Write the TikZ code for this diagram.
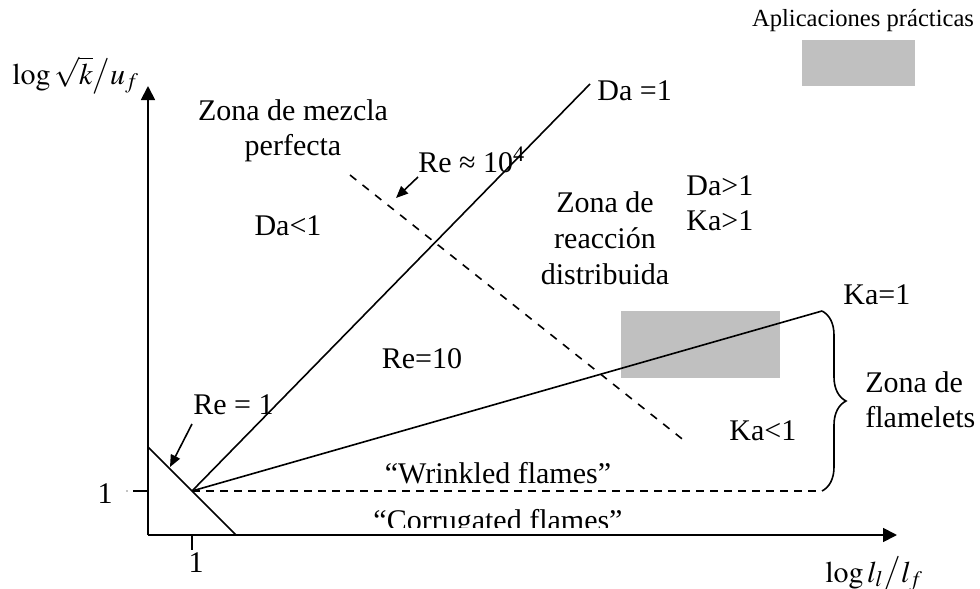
\documentclass[tikz,border=0pt]{standalone}
\usepackage{mathptmx}
\usepackage{fontspec}
\setmainfont{Liberation Serif}
\usetikzlibrary{arrows.meta,decorations.pathreplacing}
\definecolor{cG}{HTML}{C0C0C0}
\tikzset{
  lbl/.style={font=\fontsize{15}{17.5}\selectfont,inner sep=0pt},
  small/.style={font=\fontsize{12.3}{14}\selectfont,inner sep=0pt},
  axis/.style={-{Triangle[length=7pt,width=7pt]},line width=0.9pt},
  regime/.style={line width=0.8pt},
  ptr/.style={-{Triangle[length=6pt,width=5pt]},line width=0.8pt},
  dashA/.style={dash pattern=on 4pt off 4pt,line width=0.8pt},
  dashB/.style={dash pattern=on 4pt off 3pt,line width=0.8pt},
  patch/.style={fill=cG,draw=none},
}

\begin{document}
\begin{tikzpicture}[x=0.5pt,y=-0.5pt]
  \useasboundingbox (0,0) rectangle (980,589);
  % zones of practical use
  \fill[patch] (621,311) rectangle (780,378);
  \fill[patch] (802,40) rectangle (915,86);
  \node[small,anchor=base] (apl) at (863,26) {Aplicaciones prácticas};
  % axes
  \coordinate (C) at (148,535);
  \coordinate (Ytip) at (148,86);
  \coordinate (Xtip) at (897,535);
  \draw[axis] (C) -- (Ytip);
  \draw[axis] (C) -- (Xtip);
  \node[lbl,anchor=base west] (ylab) at (12,84) {$\log\sqrt{k}\big/u_{f}$};
  \node[lbl,anchor=base west] (xlab) at (825,582) {$\log l_{l}\big/l_{f}$};
  \draw[regime] (133,491) -- (148,491);
  \draw[regime] (192,535) -- (192,550);
  \fill (127,491) circle (0.7);
  \node[lbl,anchor=base] (oney) at (105,503) {1};
  \node[lbl,anchor=base] (onex) at (196,572) {1};
  % regime lines
  \coordinate (O) at (192,491);
  \coordinate (Dend) at (590,84);
  \coordinate (Kend) at (822,311);
  \coordinate (Wend) at (822,491);
  \coordinate (R1a) at (148,447);
  \coordinate (R1b) at (236,535);
  \coordinate (R4a) at (350,175);
  \coordinate (R4b) at (686,442);
  \draw[regime] (O) -- (Dend);
  \draw[regime] (O) -- (Kend);
  \draw[dashB] (O) -- (Wend);
  \draw[regime] (R1a) -- (R1b);
  \draw[dashA] (R4a) -- (R4b);
  \draw[regime,decorate,decoration={brace,amplitude=12pt}] (Kend) -- (Wend);
  % labels
  \node[lbl,anchor=base west] (da1) at (597,100) {Da =1};
  \node[lbl,anchor=base west] (ka1) at (843,304) {Ka=1};
  \node[lbl,align=center] (mez) at (293,131) {Zona de mezcla\\perfecta};
  \node[lbl,anchor=base] (dal) at (288,235) {Da<1};
  \node[lbl,anchor=base west] (re4) at (418,172) {Re ≈ 10\textsuperscript{4}};
  \node[lbl,anchor=base] (re10) at (422,368) {Re=10};
  \node[lbl,anchor=base west] (re1) at (193,414) {Re = 1};
  \node[lbl,align=center,font=\fontsize{15}{18}\selectfont] (dist) at (605,238) {Zona de\\reacción\\distribuida};
  \node[lbl,align=left,anchor=west] (dag) at (686,203) {Da>1\\Ka>1};
  \node[lbl,anchor=base west] (kal) at (729,440) {Ka<1};
  \node[lbl,align=left,anchor=west] (flm) at (865,400) {Zona de\\flamelets};
  \node[lbl,anchor=base] (wrk) at (498,483) {“Wrinkled flames”};
  \begin{scope}
    \clip (300,495) rectangle (700,527);
    \node[lbl,anchor=base] (cor) at (498,530) {“Corrugated flames”};
  \end{scope}
  % pointers
  \coordinate (a4) at (418,177);
  \coordinate (p4) at (396,198);
  \coordinate (a1) at (192,424);
  \coordinate (p1) at (170,467);
  \draw[ptr] (a4) -- (p4);
  \draw[ptr] (a1) -- (p1);
\end{tikzpicture}
\end{document}
